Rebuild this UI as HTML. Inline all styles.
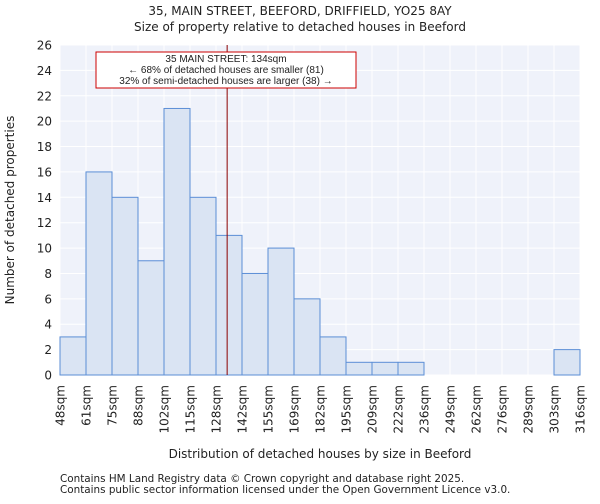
<!DOCTYPE html>
<html><head><meta charset="utf-8"><style>
body{margin:0;background:#fff;font-family:"DejaVu Sans","Liberation Sans",sans-serif;}
svg text{font-family:"DejaVu Sans","Liberation Sans",sans-serif;fill:#222;}
</style></head><body>
<svg id="chart" width="600" height="500" xmlns="http://www.w3.org/2000/svg">
<text x="300" y="15" text-anchor="middle" font-size="12">35, MAIN STREET, BEEFORD, DRIFFIELD, YO25 8AY</text>
<text x="300" y="31" text-anchor="middle" font-size="12">Size of property relative to detached houses in Beeford</text>
<rect x="60" y="45" width="520" height="330" fill="#eff2fa"/>
<g id="grid"></g><g id="bars"></g><g id="yaxis"></g><g id="xaxis"></g>
<line id="marker" y1="45" y2="375" stroke="#8b0000" stroke-width="1"/>
<rect x="96" y="52" width="260" height="36" fill="#fff" stroke="#c00" stroke-width="1"/>
<text x="226" y="62" text-anchor="middle" font-size="10" style="font-family:'Liberation Sans',sans-serif">35 MAIN STREET: 134sqm</text>
<text x="226" y="73" text-anchor="middle" font-size="10" style="font-family:'Liberation Sans',sans-serif">← 68% of detached houses are smaller (81)</text>
<text x="226" y="84" text-anchor="middle" font-size="10" style="font-family:'Liberation Sans',sans-serif">32% of semi-detached houses are larger (38) →</text>
<text x="14" y="210" text-anchor="middle" font-size="12" transform="rotate(-90 14 210)">Number of detached properties</text>
<text x="320" y="458" text-anchor="middle" font-size="12">Distribution of detached houses by size in Beeford</text>
<text x="60" y="482" font-size="10.4" fill="#444">Contains HM Land Registry data © Crown copyright and database right 2025.</text>
<text x="60" y="493" font-size="10.4" fill="#444">Contains public sector information licensed under the Open Government Licence v3.0.</text>
</svg>
<script>
const binLabels=["48sqm","61sqm","75sqm","88sqm","102sqm","115sqm","128sqm","142sqm","155sqm","169sqm","182sqm","195sqm","209sqm","222sqm","236sqm","249sqm","262sqm","276sqm","289sqm","303sqm","316sqm"];
const binEdges=[48,61,75,88,102,115,128,142,155,169,182,195,209,222,236,249,262,276,289,303,316];
const counts=[3,16,14,9,21,14,11,8,10,6,3,1,1,1,0,0,0,0,0,2];
const yTicks=[0,2,4,6,8,10,12,14,16,18,20,22,24,26];
const propertySize=134;
const NS="http://www.w3.org/2000/svg";
const X0=60,X1=580,Y0=375,Y1=45,YMAX=26;
const bw=(X1-X0)/counts.length;
const xi=i=>X0+i*bw;
const y=v=>Y0-(v/YMAX)*(Y0-Y1);
function xs(v){for(let i=0;i<binEdges.length-1;i++){if(v<=binEdges[i+1])return xi(i)+(v-binEdges[i])/(binEdges[i+1]-binEdges[i])*bw;}return X1;}
function mk(t,a,p){const e=document.createElementNS(NS,t);for(const k in a)e.setAttribute(k,a[k]);p.appendChild(e);return e;}
const g=document.getElementById('grid'),b=document.getElementById('bars'),ya=document.getElementById('yaxis'),xa=document.getElementById('xaxis');
yTicks.forEach(t=>{
 const l=mk('line',{x1:X0,x2:X1,y1:y(t),y2:y(t),stroke:'#fff','stroke-width':1},g);
 
 
 const tx=mk('text',{x:X0-8,y:y(t)+4.5,'text-anchor':'end','font-size':12},ya);
 tx.textContent=t;
 
 
});
binLabels.forEach((s,i)=>{
 const l=mk('line',{x1:xi(i),x2:xi(i),y1:Y1,y2:Y0,stroke:'#fff','stroke-width':1},g);
 
 
 const x=xi(i)+4.5;
 const tx=mk('text',{x:x,y:385,'text-anchor':'end','font-size':12,transform:`rotate(-90 ${x} 385)`},xa);
 tx.textContent=s;
 
 
});
counts.forEach((c,i)=>{
 if(c<=0)return;
 const r=mk('rect',{x:xi(i),y:y(c),width:bw,height:Y0-y(c),fill:'#dae4f3',stroke:'#5b8ed6','stroke-width':1},b);
 
 
});
const m=document.getElementById('marker');m.setAttribute('x1',xs(propertySize));m.setAttribute('x2',xs(propertySize));
</script>
</body></html>
